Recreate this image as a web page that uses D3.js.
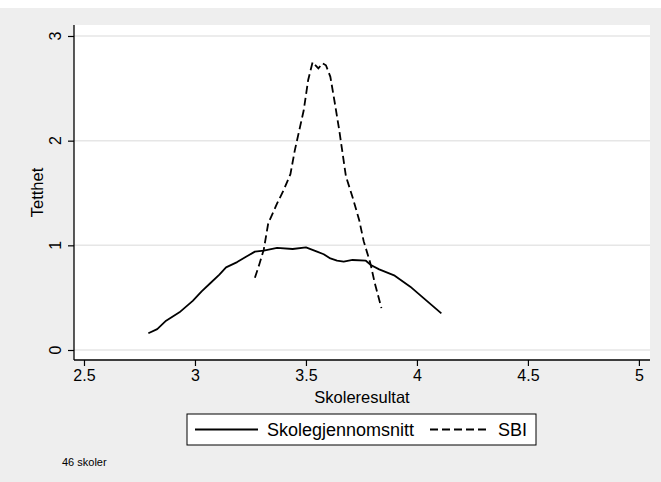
<!DOCTYPE html>
<html>
<head>
<meta charset="utf-8">
<script src="https://cdn.jsdelivr.net/npm/d3@7"></script>
<style>
  html, body { margin: 0; padding: 0; background: #ffffff; }
  svg { display: block; font-family: "Liberation Sans", Arial, sans-serif; }
  text { fill: #000; }
</style>
</head>
<body>
<svg id="chart" width="661" height="482"></svg>
<script>
// Kernel density estimates of school results
const schoolX = [2.79, 2.83, 2.87, 2.93, 2.99, 3.03, 3.07, 3.11, 3.14, 3.19, 3.23, 3.27, 3.31, 3.37, 3.44, 3.50, 3.55, 3.58, 3.61, 3.64, 3.67, 3.71, 3.77, 3.79, 3.83, 3.90, 3.97, 4.03, 4.11];
const schoolY = [0.16, 0.20, 0.28, 0.36, 0.47, 0.56, 0.64, 0.72, 0.79, 0.84, 0.89, 0.94, 0.95, 0.975, 0.965, 0.98, 0.94, 0.915, 0.875, 0.853, 0.845, 0.86, 0.853, 0.815, 0.77, 0.71, 0.605, 0.495, 0.35];

const sbiX = [3.27, 3.29, 3.31, 3.33, 3.37, 3.40, 3.43, 3.45, 3.49, 3.51, 3.53, 3.556, 3.575, 3.59, 3.61, 3.63, 3.65, 3.68, 3.71, 3.74, 3.76, 3.79, 3.81, 3.84];
const sbiY = [0.69, 0.82, 0.96, 1.21, 1.40, 1.53, 1.68, 1.91, 2.29, 2.58, 2.75, 2.69, 2.74, 2.72, 2.61, 2.36, 2.10, 1.66, 1.46, 1.24, 1.04, 0.83, 0.64, 0.40];

const xTicks = [2.5, 3, 3.5, 4, 4.5, 5];
const yTicks = [0, 1, 2, 3];
const seriesNames = ["Skolegjennomsnitt", "SBI"];
const xTitle = "Skoleresultat";
const yTitle = "Tetthet";
const note = "46 skoler";

const svg = d3.select("#chart");

// Outer graph region
svg.append("rect").attr("x", 0).attr("y", 8).attr("width", 661).attr("height", 474).attr("fill", "#eeeeee");

// Plot region
const pLeft = 74, pRight = 650, pTop = 25, pBottom = 360;
svg.append("rect").attr("x", pLeft).attr("y", pTop).attr("width", pRight - pLeft).attr("height", pBottom - pTop).attr("fill", "#ffffff");

const x = d3.scaleLinear().domain([2.455, 5.05]).range([pLeft, pRight]);
const y = d3.scaleLinear().domain([-0.0955, 3.105]).range([pBottom, pTop]);

// Horizontal grid lines
svg.append("g").selectAll("line").data(yTicks).join("line")
  .attr("x1", pLeft).attr("x2", pRight)
  .attr("y1", d => y(d)).attr("y2", d => y(d))
  .attr("stroke", "#e6e6e6").attr("stroke-width", 1.5);

// Axes
const xAxis = svg.append("g").attr("transform", `translate(0,${pBottom})`)
  .call(d3.axisBottom(x).tickValues(xTicks).tickSize(6).tickPadding(4).tickFormat(d3.format("")));
const yAxis = svg.append("g").attr("transform", `translate(${pLeft},0)`)
  .call(d3.axisLeft(y).tickValues(yTicks).tickSize(6).tickFormat(""));

[xAxis, yAxis].forEach(g => {
  g.attr("font-family", null).attr("font-size", null);
  g.select(".domain").attr("stroke", "#000").attr("stroke-width", 1.3);
  g.selectAll(".tick line").attr("stroke", "#000").attr("stroke-width", 1.2);
});
// Axis lines span the plot region only
xAxis.select(".domain").attr("d", `M${pLeft},0H${pRight}`);
yAxis.select(".domain").attr("d", `M0,${pTop}V${pBottom}`);

xAxis.selectAll(".tick text").attr("font-size", 16).attr("dy", "0.71em").attr("y", 10);

// Rotated y tick labels
svg.append("g").selectAll("text").data(yTicks).join("text")
  .attr("transform", d => `translate(${pLeft - 13},${y(d)}) rotate(-90)`)
  .attr("text-anchor", "middle")
  .attr("font-size", 16)
  .text(d => d);

// Axis titles
svg.append("text").attr("x", (pLeft + pRight) / 2).attr("y", 403)
  .attr("text-anchor", "middle").attr("font-size", 16.5).text(xTitle);
svg.append("text").attr("transform", `translate(43,${(pTop + pBottom) / 2}) rotate(-90)`)
  .attr("text-anchor", "middle").attr("font-size", 16.5).text(yTitle);

// Density curves
const line = d3.line().x(d => x(d[0])).y(d => y(d[1]));
const schoolPts = schoolX.map((v, i) => [v, schoolY[i]]);
const sbiPts = sbiX.map((v, i) => [v, sbiY[i]]);

svg.append("path").attr("d", line(schoolPts)).attr("fill", "none")
  .attr("stroke", "#000").attr("stroke-width", 1.8).attr("stroke-linejoin", "round");
svg.append("path").attr("d", line(sbiPts)).attr("fill", "none")
  .attr("stroke", "#000").attr("stroke-width", 1.8).attr("stroke-dasharray", "8,4");

// Legend
const lg = svg.append("g");
lg.append("rect").attr("x", 187).attr("y", 414).attr("width", 349).attr("height", 31)
  .attr("fill", "#fff").attr("stroke", "#000").attr("stroke-width", 1);
lg.append("line").attr("x1", 195).attr("x2", 258).attr("y1", 429.5).attr("y2", 429.5)
  .attr("stroke", "#000").attr("stroke-width", 1.8);
lg.append("text").attr("x", 267).attr("y", 436).attr("font-size", 18).text(seriesNames[0]);
lg.append("line").attr("x1", 430).attr("x2", 490).attr("y1", 429.5).attr("y2", 429.5)
  .attr("stroke", "#000").attr("stroke-width", 1.8).attr("stroke-dasharray", "8,4");
lg.append("text").attr("x", 498).attr("y", 436).attr("font-size", 18).text(seriesNames[1]);

// Note
svg.append("text").attr("x", 62).attr("y", 466).attr("font-size", 11).text(note);
</script>
</body>
</html>
